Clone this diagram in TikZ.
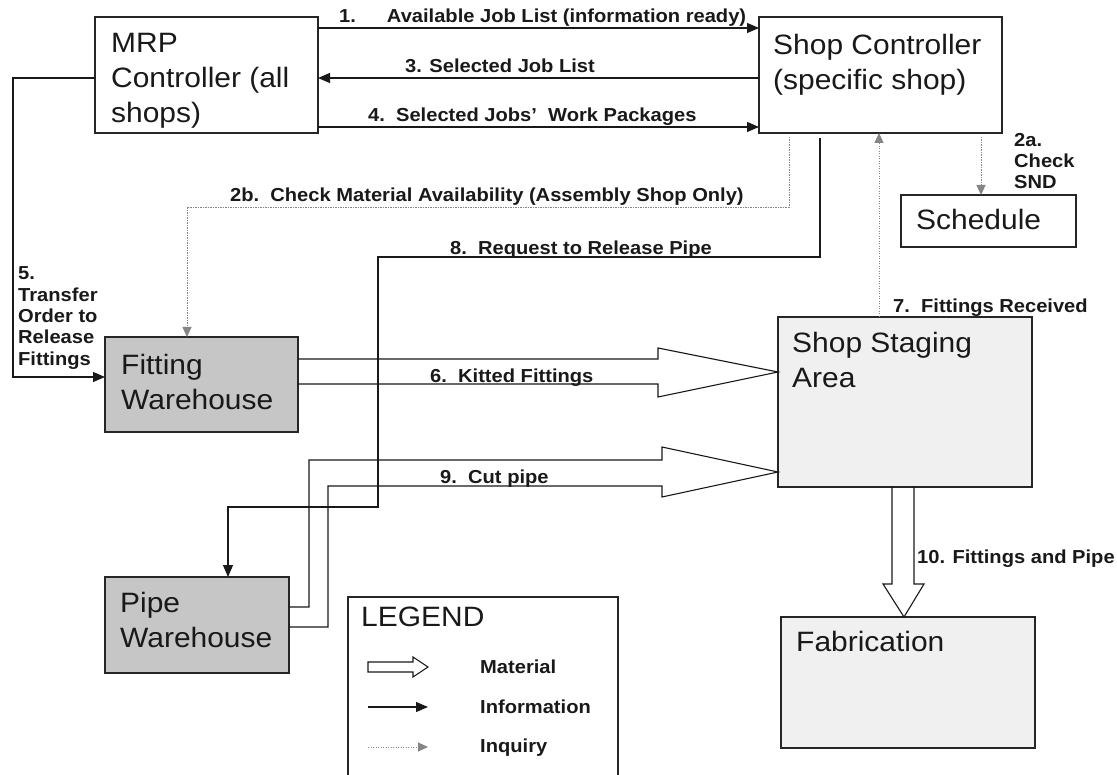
\documentclass[tikz,border=0pt]{standalone}
\usepackage{fontspec}
\setmainfont{Liberation Sans}[FakeStretch=1.07]
\usetikzlibrary{arrows.meta,calc}
\definecolor{whgray}{HTML}{C6C6C6}
\definecolor{lightfill}{HTML}{F0F0F0}
\definecolor{inqgray}{HTML}{858585}
\tikzset{
  box/.style={draw=black!85, line width=1.4pt, inner sep=0pt, outer sep=0pt, anchor=north west},
  boxtxt/.style={anchor=north west, inner sep=0pt, align=left, text=black!90,
    font=\fontsize{28}{35}\selectfont},
  lbl/.style={anchor=base west, inner sep=0pt, text=black!90,
    font=\fontsize{18.8}{21.3}\selectfont\bfseries},
  lblm/.style={anchor=north west, inner sep=0pt, align=left, text=black!90,
    font=\fontsize{18.8}{21.3}\selectfont\bfseries},
  info/.style={draw=black!90, line width=1.1pt, -{Triangle[length=12pt,width=10pt]}},
  inq/.style={draw=inqgray, line width=0.9pt, dash pattern=on 1.3pt off 1.2pt,
    -{Triangle[length=10pt,width=9pt]}},
  mat/.style={draw=black!90, line width=1.1pt, line join=miter},
}
\begin{document}
\begin{tikzpicture}[x=1pt,y=-1pt]
\useasboundingbox (0,0) rectangle (1117,775);

% ---- boxes ----
\node[box, minimum width=223pt, minimum height=116pt] (mrp) at (95,17) {};
\node[box, minimum width=243pt, minimum height=116pt] (shop) at (759,17) {};
\node[box, minimum width=175pt, minimum height=52pt] (sched) at (901,195) {};
\node[box, fill=whgray, minimum width=193pt, minimum height=95pt] (fitw) at (105,337) {};
\node[box, fill=whgray, minimum width=184pt, minimum height=96pt] (pipew) at (105,577) {};
\node[box, fill=lightfill, minimum width=254pt, minimum height=170pt] (stage) at (778,317) {};
\node[box, fill=lightfill, minimum width=254pt, minimum height=131pt] (fab) at (781,617) {};
\node[box, minimum width=270pt, minimum height=220pt] (legend) at (348,597) {};

% ---- box texts ----
\node[boxtxt] (mrpt) at (111,33.5) {MRP\\Controller (all\\shops)};
\node[boxtxt] (shopt) at (773,34.5) {Shop Controller\\(specific shop)};
\node[boxtxt] (schedt) at (916,209.5) {Schedule};
\node[boxtxt] (fitwt) at (121,354.5) {Fitting\\Warehouse};
\node[boxtxt] (pipewt) at (120,592.5) {Pipe\\Warehouse};
\node[boxtxt] (staget) at (792,332.5) {Shop Staging\\Area};
\node[boxtxt] (fabt) at (796,631.5) {Fabrication};
\node[boxtxt] (legendt) at (361,606.5) {LEGEND};

% ---- information flows ----
\draw[info] ([yshift=-11pt]mrp.north east) -- ([yshift=-11pt]shop.north west);
\draw[info] ([yshift=-61pt]shop.north west) -- ([yshift=-61pt]mrp.north east);
\draw[info] ([yshift=-110pt]mrp.north east) -- ([yshift=-110pt]shop.north west);
\draw[info] ([yshift=-61pt]mrp.north west) -- (13,78) |- ([yshift=7.5pt]fitw.west);
\coordinate (req) at (820,138);
\draw[info] (req) |- (378,257) -- (378,507) -| ([xshift=31pt]pipew.north);

% ---- inquiries ----
\coordinate (snd) at (981,137);
\draw[inq] (snd) -- (snd |- sched.north);
\coordinate (avail) at (789,137);
\draw[inq] (avail) -- ++(0,70) -| ([xshift=-14.5pt]fitw.north);
\draw[inq] ([xshift=-26pt]stage.north) -- ([xshift=-26pt]stage.north |- shop.south);

% ---- material flows ----
\draw[mat] (fitw.east |- 0,359) -- (658,359) -- (658,348) -- (stage.west |- 0,372)
  -- (658,397) -- (658,384) -- (fitw.east |- 0,384);
\draw[mat] (pipew.east |- 0,607) -- (309,607) -- (309,460) -- (662,460) -- (662,447)
  -- (stage.west |- 0,472) -- (662,497) -- (662,486) -- (328,486) -- (328,627)
  -- (pipew.east |- 0,627);
\draw[mat] (892,0 |- stage.south) -- (892,584) -- (883,584) -- (904,0 |- fab.north)
  -- (924,584) -- (914,584) -- (914,0 |- stage.south);
% redraw the request line so it crosses the material arrows
\draw[draw=black!90, line width=1.1pt] (378,257) -- (378,507) -- (228,507);

% ---- flow labels ----
\node[lbl] (l1) at (339,23) {1.\hspace{31pt}Available Job List (information ready)};
\node[lbl] (l3) at (405,73) {3. Selected Job List};
\node[lbl] (l4) at (368,122) {4.\ \ Selected Jobs’\ \ Work Packages};
\node[lblm] (l2a) at (1014,132.8) {2a.\\Check\\SND};
\node[lbl] (l2b) at (230,202) {2b.\ \ Check Material Availability (Assembly Shop Only)};
\node[lbl] (l8) at (450,255) {8.\ \ Request to Release Pipe};
\node[lblm] (l5) at (18,266.8) {5.\\Transfer\\Order to\\Release\\Fittings};
\node[lbl] (l6) at (430,383) {6.\ \ Kitted Fittings};
\node[lbl] (l7) at (893,313) {7.\ \ Fittings Received};
\node[lbl] (l9) at (440,483) {9.\ \ Cut pipe};
\node[lbl] (l10) at (917,563) {10. Fittings and Pipe};

% ---- legend ----
\coordinate (lm) at (368,667);
\draw[mat] ($(lm)+(0,-5)$) -- ++(45,0) -- ++(0,-5) -- ($(lm)+(60,0)$) -- ++(-15,10)
  -- ++(0,-5) -- ++(-45,0) -- cycle;
\coordinate (li) at (368,707);
\draw[info] (li) -- ++(60,0);
\coordinate (lq) at (368,747);
\draw[inq] (lq) -- ++(60,0);
\node[lbl] (lmt) at (480,673) {Material};
\node[lbl] (lit) at (480,713) {Information};
\node[lbl] (lqt) at (480,752) {Inquiry};
\end{tikzpicture}
\end{document}
